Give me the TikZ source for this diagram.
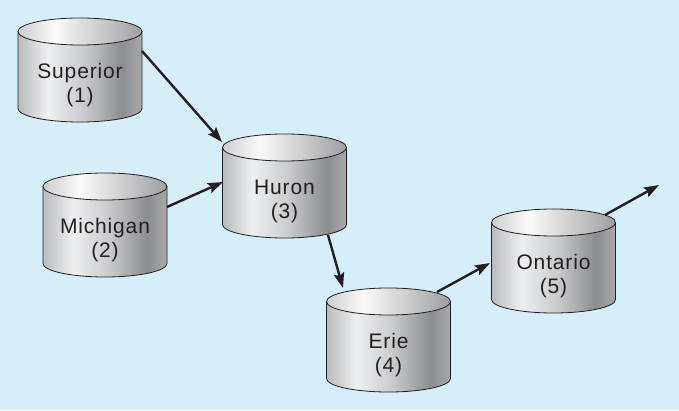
\documentclass[tikz,border=0pt]{standalone}
\usepackage{fontspec}
\setmainfont{Liberation Sans}[LetterSpace=4]
\usetikzlibrary{arrows.meta}
\definecolor{bg}{RGB}{214,238,250}
\definecolor{ink}{RGB}{35,31,32}
\definecolor{b0}{RGB}{185,186,188}
\definecolor{b1}{RGB}{238,239,240}
\definecolor{b2}{RGB}{200,201,203}
\definecolor{b3}{RGB}{140,141,144}
\definecolor{b4}{RGB}{168,169,171}
\definecolor{t0}{RGB}{205,206,208}
\definecolor{t1}{RGB}{250,250,250}
\definecolor{t3}{RGB}{158,159,161}
\pgfdeclarehorizontalshading{cylbody}{100bp}{color(0bp)=(b0); color(25bp)=(b0); color(37bp)=(b1); color(52bp)=(b2); color(67bp)=(b3); color(75bp)=(b4); color(100bp)=(b4)}
\pgfdeclarehorizontalshading{cyltop}{100bp}{color(0bp)=(t0); color(25bp)=(t0); color(40bp)=(t1); color(75bp)=(t3); color(100bp)=(t3)}
\tikzset{
  cylline/.style={draw=ink, line width=0.8pt},
  laketext/.style={align=center, text=ink, inner sep=0pt, font=\fontsize{21}{24}\selectfont},
  flow/.style={draw=ink, line width=2.4pt, -{Stealth[length=15pt,width=10.5pt,inset=2.5pt]}}
}
\newcommand\lake[5]{%
  \shade[shading=cylbody, cylline] ({#2-62},{396.5-#3}) -- ({#2-62},{319.5-#3})
     arc[start angle=180, end angle=360, x radius=62pt, y radius=13.5pt]
     -- ({#2+62},{396.5-#3}) -- cycle;
  \shade[shading=cyltop, cylline] ({#2},{396.5-#3}) ellipse[x radius=62pt, y radius=13.5pt];
  \node[laketext] (#1) at ({#2},{342.5-#3}) {#4\\(#5)};
}
\begin{document}
\begin{tikzpicture}[x=1pt,y=1pt]
\fill[bg] (0,0) rectangle (679,410);
\useasboundingbox (0,0) rectangle (679,410);
\lake{sup}{80}{18}{Superior}{1}
\lake{mich}{105}{173}{Michigan}{2}
\lake{hur}{284.5}{134}{Huron}{3}
\lake{erie}{388.5}{288}{Erie}{4}
\lake{ont}{553.5}{209}{Ontario}{5}
\coordinate (supout) at (142,359);
\coordinate (hurin1) at (222,268);
\coordinate (michout) at (167,203);
\coordinate (hurin2) at (223,228);
\coordinate (hurout) at (328,175);
\coordinate (eriein) at (343,122);
\coordinate (erieout) at (437,118);
\coordinate (ontin) at (490,147);
\coordinate (ontout) at (605,195);
\coordinate (outlet) at (659,225);
\draw[flow] (supout) -- (hurin1);
\draw[flow] (michout) -- (hurin2);
\draw[flow] (hurout) -- (eriein);
\draw[flow] (erieout) -- (ontin);
\draw[flow] (ontout) -- (outlet);
\end{tikzpicture}
\end{document}
